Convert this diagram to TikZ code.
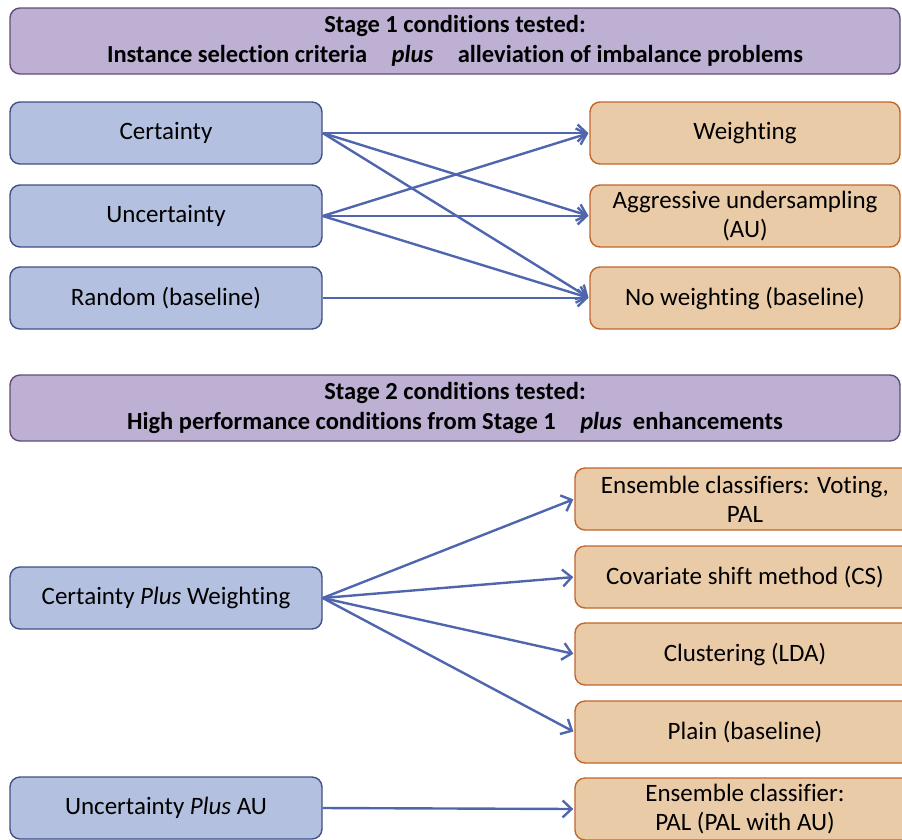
\documentclass[tikz,border=0pt]{standalone}
\usepackage{fontspec}
\setmainfont{Carlito}[Ligatures=NoCommon]
\usetikzlibrary{arrows.meta}
\definecolor{lbfill}{HTML}{B4C0E0}
\definecolor{lbdraw}{HTML}{3F5186}
\definecolor{hdfill}{HTML}{BDB0D3}
\definecolor{hddraw}{HTML}{5E4E78}
\definecolor{orfill}{HTML}{EACBA8}
\definecolor{ordraw}{HTML}{C2672B}
\definecolor{arr}{HTML}{4F66AE}
\tikzset{
  base/.style={rounded corners=10pt, line width=1.4pt, inner sep=2pt, align=center,
    font=\fontsize{25}{29}\selectfont},
  header/.style={base, fill=hdfill, draw=hddraw, minimum width=890pt, minimum height=66pt, font=\fontsize{24.5}{29.5}\selectfont\bfseries},
  leftbox/.style={base, fill=lbfill, draw=lbdraw, minimum width=312pt, minimum height=62pt},
  rbox/.style={base, fill=orfill, draw=ordraw, minimum width=310pt, minimum height=62pt},
  rboxw/.style={base, fill=orfill, draw=ordraw, minimum width=340pt, minimum height=62pt},
  conn/.style={draw=arr, line width=2.4pt, -{Straight Barb[length=9pt,width=17pt,line width=2.4pt]}, shorten >=1pt}
}
\begin{document}
\begin{tikzpicture}[x=1pt,y=-1pt]
\useasboundingbox (0,0) rectangle (902,839);
\clip (0,0) rectangle (902,839);
% Stage 1
\node[header] (h1) at (455,41) {Stage 1 conditions tested:\\Instance selection criteria\quad\textit{plus}\quad alleviation of imbalance problems};
\node[leftbox] (cert) at (166,133) {Certainty};
\node[leftbox] (unc) at (166,216) {Uncertainty};
\node[leftbox] (rand) at (166,298) {Random (baseline)};
\node[rbox] (wt) at (745,133) {Weighting};
\node[rbox] (au) at (745,216) {Aggressive undersampling\\(AU)};
\node[rbox] (nw) at (745,298) {No weighting (baseline)};
\draw[conn] (cert.east) -- (wt.west);
\draw[conn] (cert.east) -- (au.west);
\draw[conn] (cert.east) -- (nw.west);
\draw[conn] (unc.east) -- (wt.west);
\draw[conn] (unc.east) -- (au.west);
\draw[conn] (unc.east) -- (nw.west);
\draw[conn] (rand.east) -- (nw.west);
% Stage 2
\node[header] (h2) at (455,408) {Stage 2 conditions tested:\\High performance conditions from Stage 1\quad\textit{plus}\ \ enhancements};
\node[leftbox] (cpw) at (166,598) {Certainty \textit{Plus} Weighting};
\node[leftbox] (upa) at (166,808) {Uncertainty \textit{Plus} AU};
\node[rboxw] (ens) at (745,499) {Ensemble classifiers: Voting,\\PAL};
\node[rboxw] (cov) at (745,577) {Covariate shift method (CS)};
\node[rboxw] (clu) at (745,654) {Clustering (LDA)};
\node[rboxw] (pla) at (745,732) {Plain (baseline)};
\node[rboxw] (ens2) at (745,809) {Ensemble classifier:\\PAL (PAL with AU)};
\draw[conn] (cpw.east) -- (ens.west);
\draw[conn] (cpw.east) -- (cov.west);
\draw[conn] (cpw.east) -- (clu.west);
\draw[conn] (cpw.east) -- (pla.west);
\draw[conn] (upa.east) -- (ens2.west);
\end{tikzpicture}
\end{document}
